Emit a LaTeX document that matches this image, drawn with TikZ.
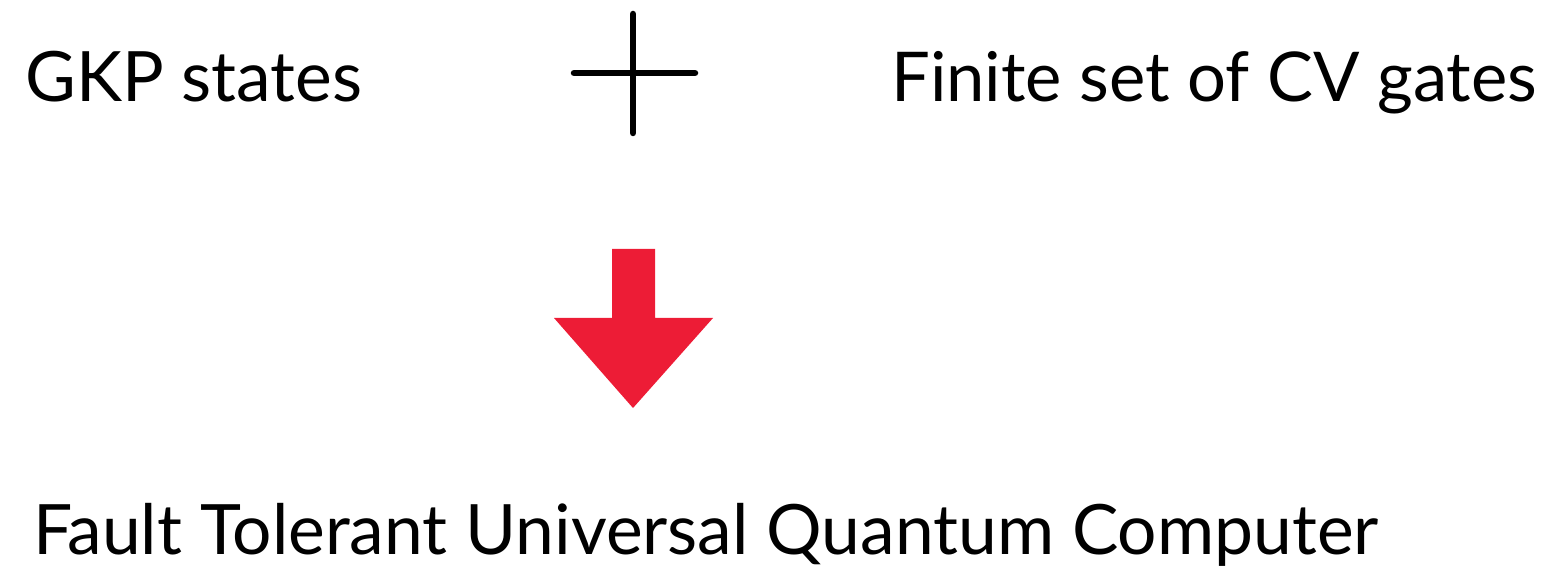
\documentclass[tikz,border=0pt]{standalone}
\usepackage{fontspec}
\setmainfont{Lato}
\definecolor{arrowred}{RGB}{237,28,54}
\tikzset{
  lbl/.style={anchor=base west, inner sep=0pt, font=\fontsize{69.5}{80}\selectfont},
  plusline/.style={line width=6.5pt, line cap=round},
}
\begin{document}
\begin{tikzpicture}[x=1pt,y=-1pt]
\useasboundingbox (0,0) rectangle (1553,569);
\node[lbl] (gkp) at (25,102) {GKP states};
\node[lbl, font=\fontsize{68.7}{80}\selectfont] (gates) at (891,102) {Finite set of CV gates};
\node[lbl] (ftqc) at (33,554) {Fault Tolerant Universal Quantum Computer};
\coordinate (pt) at (633,14);
\coordinate (pb) at (633,133);
\coordinate (pl) at (574,73);
\coordinate (pr) at (695,73);
\draw[plusline] (pt) -- (pb);
\draw[plusline] (pl) -- (pr);
\fill[arrowred] (612,249) -- (655,249) -- (655,318) -- (713,318) -- (633,408) -- (554,318) -- (612,318) -- cycle;
\end{tikzpicture}
\end{document}
